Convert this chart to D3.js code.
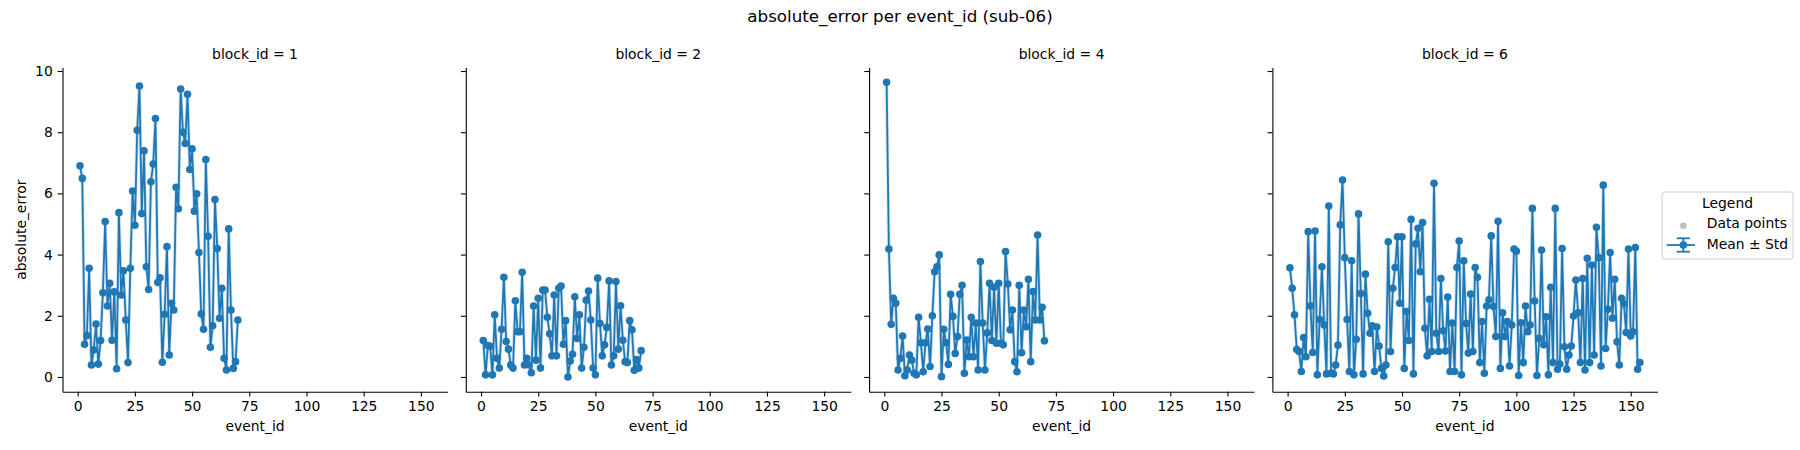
<!DOCTYPE html>
<html>
<head>
<meta charset="utf-8">
<script src="https://cdn.jsdelivr.net/npm/d3@7"></script>
<style>
  body { margin: 0; background: #fff; }
  svg { display: block; font-family: "DejaVu Sans", sans-serif; }
</style>
</head>
<body>
<div id="chart"></div>
<script>
// values, one array per block (event_id = firstEvent + index)
var blockIds = [1, 2, 4, 6];
var firstEvent = [1, 1, 1, 1];

var errBlock1 = [
  6.9, 6.49, 1.07, 1.35, 3.55, 0.39, 0.88, 1.73, 0.42, 1.19,
  2.75, 5.08, 2.32, 3.06, 1.2, 2.78, 0.27, 5.37, 2.68, 3.47,
  1.86, 0.47, 3.55, 6.08, 4.96, 8.06, 9.51, 5.34, 7.39, 3.6,
  2.86, 6.38, 6.96, 8.45, 3.09, 3.24, 0.48, 2.05, 4.26, 0.72,
  2.41, 2.19, 6.2, 5.5, 9.41, 8.0, 7.63, 9.24, 6.78, 7.46,
  5.42, 5.99, 4.07, 2.06, 1.56, 7.11, 4.6, 0.97, 1.67, 5.8,
  4.2, 1.92, 2.9, 0.61, 0.23, 4.84, 2.19, 0.28, 0.5, 1.86
];
var errBlock2 = [
  1.19, 0.07, 1.03, 1.0, 0.07, 2.03, 0.61, 0.29, 1.56, 3.26,
  1.16, 0.91, 0.39, 0.29, 2.49, 1.48, 1.48, 3.42, 0.39, 0.61,
  0.39, 0.14, 2.32, 0.55, 2.57, 0.29, 2.84, 2.84, 1.95, 1.41,
  0.69, 2.68, 0.69, 2.9, 2.97, 1.07, 1.84, 0.0, 0.52, 0.74,
  2.62, 1.26, 2.03, 0.29, 0.97, 2.51, 2.81, 1.86, 0.29, 0.07,
  3.23, 1.75, 0.69, 1.05, 1.62, 3.14, 0.39, 0.69, 3.12, 0.91,
  2.33, 1.2, 0.5, 0.47, 1.84, 1.54, 0.22, 0.57, 0.29, 0.86
];
var errBlock4 = [
  9.63, 4.18, 1.72, 2.57, 2.41, 0.23, 0.61, 1.34, 0.04, 0.23,
  0.72, 0.55, 0.12, 0.07, 1.95, 1.12, 0.17, 1.12, 1.57, 0.34,
  2.0, 3.44, 3.6, 3.99, 0.01, 1.56, 1.12, 0.41, 2.7, 1.98,
  0.77, 1.32, 2.7, 3.0, 0.12, 1.21, 0.66, 1.95, 0.66, 1.76,
  0.23, 3.77, 1.76, 0.23, 1.44, 3.06, 1.19, 2.93, 1.1, 3.06,
  1.1, 1.05, 4.1, 3.04, 1.54, 2.19, 0.5, 0.17, 3.0, 0.79,
  2.19, 1.64, 3.19, 0.5, 2.79, 1.86, 4.64, 1.86, 2.28, 1.18
];
var errBlock6 = [
  3.57, 2.9, 2.03, 0.9, 0.83, 0.18, 1.29, 0.66, 4.75, 2.32,
  0.8, 4.77, 0.07, 1.88, 3.6, 1.7, 0.1, 5.59, 0.12, 0.1,
  0.39, 1.04, 4.97, 6.44, 3.9, 1.88, 0.18, 3.8, 0.07, 1.23,
  5.33, 2.73, 0.1, 3.36, 2.08, 1.43, 1.67, 0.18, 1.63, 1.01,
  0.28, 0.03, 0.39, 4.42, 0.83, 2.9, 3.58, 4.58, 2.41, 4.58,
  0.28, 2.14, 1.19, 5.15, 0.1, 4.35, 4.86, 3.44, 5.05, 1.59,
  0.69, 2.54, 0.83, 6.33, 1.43, 0.83, 3.22, 1.51, 0.85, 2.61,
  0.18, 1.76, 0.18, 3.58, 4.44, 0.07, 3.8, 1.75, 0.78, 2.71,
  0.83, 3.58, 3.26, 0.47, 1.81, 0.12, 2.32, 2.52, 4.61, 2.3,
  1.32, 5.09, 0.28, 2.1, 1.32, 1.81, 0.36, 1.7, 4.18, 4.11,
  0.05, 1.77, 0.47, 2.32, 1.48, 1.7, 5.51, 2.48, 0.05, 1.26,
  4.15, 1.05, 1.97, 0.07, 2.93, 0.47, 5.51, 0.25, 0.42, 4.2,
  0.99, 0.25, 0.72, 1.01, 1.99, 3.17, 2.1, 0.47, 3.22, 0.23,
  3.88, 0.47, 3.66, 0.72, 4.89, 3.9, 0.36, 6.27, 0.93, 2.21,
  4.07, 1.92, 3.19, 1.15, 0.39, 2.57, 2.39, 1.45, 4.18, 1.34,
  1.48, 4.23, 0.25, 0.47
];

var xTicks = [0, 25, 50, 75, 100, 125, 150];
var yTicks = [0, 2, 4, 6, 8, 10];

var series = [errBlock1, errBlock2, errBlock4, errBlock6];
var blue = "#1f77b4";
var fontPx = 13.9;

var W = 1800, H = 450;
var panelLeft = [62.5, 465.8, 869.1, 1272.4];
var panelW = 385;
var plotTop = 67.6, plotBottom = 391.7;
var panelH = plotBottom - plotTop;

var blocks = blockIds.map(function(b, i) {
  return series[i].map(function(v, j) {
    return { event: firstEvent[i] + j, value: v };
  });
});
var allPoints = d3.merge(blocks);

// shared axes with matplotlib's 5% margins
var xExt = d3.extent(allPoints, function(d) { return d.event; });
var xPad = (xExt[1] - xExt[0]) * 0.05;
var x = d3.scaleLinear()
  .domain([xExt[0] - xPad, xExt[1] + xPad])
  .range([0, panelW]);

var yExt = d3.extent(allPoints, function(d) { return d.value; });
var yPad = (yExt[1] - yExt[0]) * 0.05;
var y = d3.scaleLinear()
  .domain([yExt[0] - yPad, yExt[1] + yPad])
  .range([panelH, 0]);

var svg = d3.select("#chart")
  .append("svg")
  .attr("width", W)
  .attr("height", H);

svg.append("text")
  .attr("x", W / 2)
  .attr("y", 22)
  .attr("text-anchor", "middle")
  .style("font-size", "16.7px")
  .text("absolute_error per event_id (sub-06)");

var line = d3.line()
  .x(function(d) { return x(d.event); })
  .y(function(d) { return y(d.value); });

function styleAxis(g) {
  g.attr("font-family", "DejaVu Sans").attr("font-size", fontPx);
  g.select(".domain").attr("stroke-width", 1.1);
  g.selectAll(".tick line").attr("stroke-width", 1.1);
}

blocks.forEach(function(data, i) {
  var g = svg.append("g")
    .attr("transform", "translate(" + panelLeft[i] + "," + plotTop + ")");

  g.append("g")
    .attr("transform", "translate(0," + panelH + ")")
    .call(d3.axisBottom(x).tickValues(xTicks).tickSize(4.86).tickPadding(4.86).tickSizeOuter(0))
    .call(styleAxis);

  var yAxis = d3.axisLeft(y).tickValues(yTicks).tickSize(4.86).tickPadding(4.86).tickSizeOuter(0);
  if (i > 0) yAxis.tickFormat("");
  g.append("g").call(yAxis).call(styleAxis);

  // raw points (grey), then the mean line on top
  g.append("g")
    .selectAll("circle")
    .data(data)
    .enter()
    .append("circle")
    .attr("cx", function(d) { return x(d.event); })
    .attr("cy", function(d) { return y(d.value); })
    .attr("r", 3)
    .attr("fill", "gray")
    .attr("fill-opacity", 0.5);

  g.append("path")
    .datum(data)
    .attr("fill", "none")
    .attr("stroke", blue)
    .attr("stroke-opacity", 0.2)
    .attr("stroke-width", 3.6)
    .attr("d", line);

  g.append("path")
    .datum(data)
    .attr("fill", "none")
    .attr("stroke", blue)
    .attr("stroke-width", 1.8)
    .attr("stroke-linejoin", "round")
    .attr("d", line);

  g.append("g")
    .selectAll("circle")
    .data(data)
    .enter()
    .append("circle")
    .attr("cx", function(d) { return x(d.event); })
    .attr("cy", function(d) { return y(d.value); })
    .attr("r", 3.8)
    .attr("fill", blue);

  g.append("text")
    .attr("x", panelW / 2)
    .attr("y", -8.3)
    .attr("text-anchor", "middle")
    .style("font-size", fontPx + "px")
    .text("block_id = " + blockIds[i]);

  g.append("text")
    .attr("x", panelW / 2)
    .attr("y", 431.5 - plotTop)
    .attr("text-anchor", "middle")
    .style("font-size", fontPx + "px")
    .text("event_id");
});

svg.append("text")
  .attr("transform", "translate(26.2," + (plotTop + panelH / 2) + ")rotate(-90)")
  .attr("text-anchor", "middle")
  .style("font-size", fontPx + "px")
  .text("absolute_error");

// legend
var lg = svg.append("g").attr("transform", "translate(1662,192)");
lg.append("rect")
  .attr("width", 131)
  .attr("height", 67)
  .attr("rx", 2.8)
  .attr("fill", "#fff")
  .attr("fill-opacity", 0.8)
  .attr("stroke", "#cccccc")
  .attr("stroke-width", 1);
lg.append("text")
  .attr("x", 65.5)
  .attr("y", 15.5)
  .attr("text-anchor", "middle")
  .style("font-size", fontPx + "px")
  .text("Legend");
lg.append("circle")
  .attr("cx", 21.3)
  .attr("cy", 33.7)
  .attr("r", 3.3)
  .attr("fill", "gray")
  .attr("fill-opacity", 0.5);
lg.append("text")
  .attr("x", 44.7)
  .attr("y", 36.4)
  .style("font-size", fontPx + "px")
  .text("Data points");
lg.append("line")
  .attr("x1", 4.7).attr("x2", 33)
  .attr("y1", 53).attr("y2", 53)
  .attr("stroke", blue)
  .attr("stroke-width", 1.8);
lg.append("line")
  .attr("x1", 21.3).attr("x2", 21.3)
  .attr("y1", 46.3).attr("y2", 59.7)
  .attr("stroke", blue)
  .attr("stroke-width", 1.8);
[46.3, 59.7].forEach(function(cy) {
  lg.append("line")
    .attr("x1", 14.7).attr("x2", 28)
    .attr("y1", cy).attr("y2", cy)
    .attr("stroke", blue)
    .attr("stroke-width", 1.8);
});
lg.append("circle")
  .attr("cx", 21.3)
  .attr("cy", 53)
  .attr("r", 3.8)
  .attr("fill", blue);
lg.append("text")
  .attr("x", 44.7)
  .attr("y", 57.4)
  .style("font-size", fontPx + "px")
  .text("Mean \u00b1 Std");
</script>
</body>
</html>
